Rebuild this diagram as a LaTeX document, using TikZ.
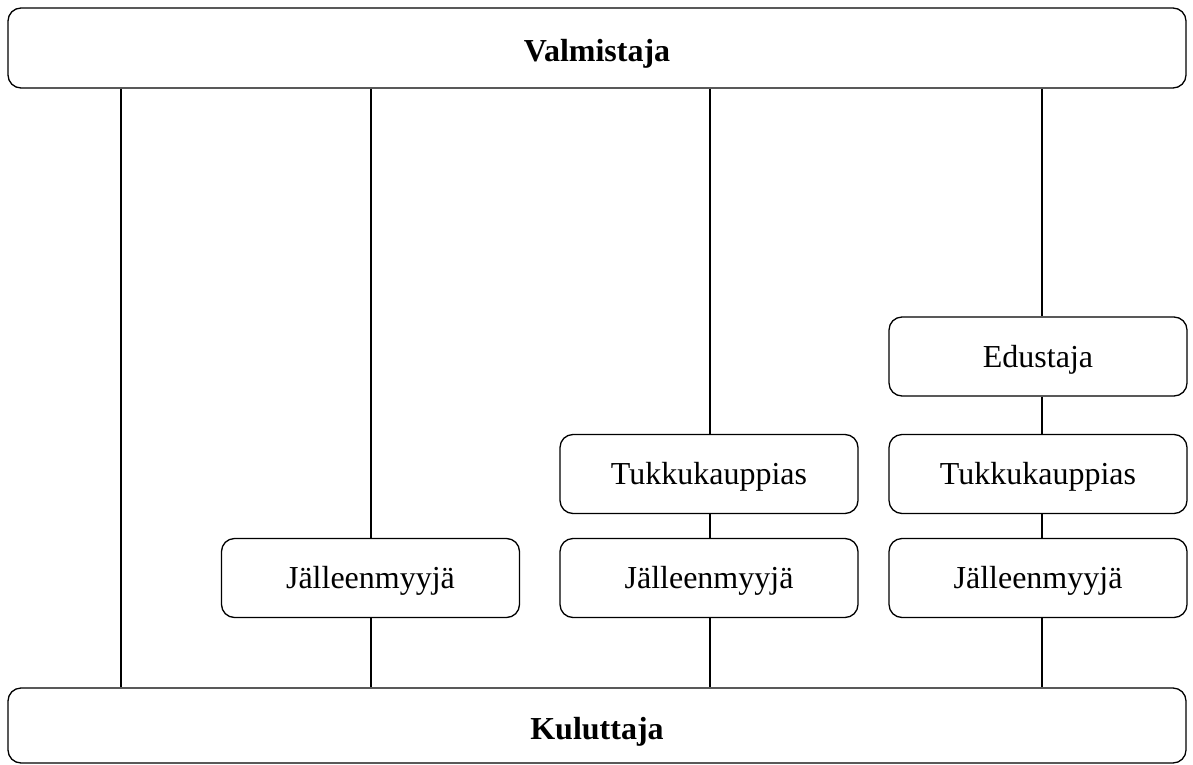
\documentclass[tikz,border=0pt]{standalone}
\usepackage{fontspec}
\setmainfont{Liberation Serif}
\begin{document}
\begin{tikzpicture}[x=1pt,y=-1pt,line width=1.3pt,
  box/.style={draw,rounded corners=13pt,inner sep=0pt,minimum width=298pt,minimum height=79pt,text height=21pt,text depth=0pt,font=\fontsize{32}{38}\selectfont},
  wide/.style={box,minimum width=1178pt,text height=27pt,font=\fontsize{32}{38}\selectfont\bfseries},
  link/.style={draw}]
\useasboundingbox (0,0) rectangle (1193,765);
\node[wide,minimum height=80pt] (top) at (597,48) {Valmistaja};
\node[wide,minimum height=75pt] (bot) at (597,725.5) {Kuluttaja};
\node[box] (j1) at (370.5,578) {Jälleenmyyjä};
\node[box] (t3) at (709,474) {Tukkukauppias};
\node[box] (j3) at (709,578) {Jälleenmyyjä};
\node[box] (e4) at (1038,356.5) {Edustaja};
\node[box] (t4) at (1038,474) {Tukkukauppias};
\node[box] (j4) at (1038,578) {Jälleenmyyjä};
\coordinate (c1) at (121,400);
\coordinate (c2) at (371,400);
\coordinate (c3) at (710,400);
\coordinate (c4) at (1042,400);
\draw[link] (top.south -| c1) -- (bot.north -| c1);
\draw[link] (top.south -| c2) -- (j1.north -| c2);
\draw[link] (j1.south -| c2) -- (bot.north -| c2);
\draw[link] (top.south -| c3) -- (t3.north -| c3);
\draw[link] (t3.south -| c3) -- (j3.north -| c3);
\draw[link] (j3.south -| c3) -- (bot.north -| c3);
\draw[link] (top.south -| c4) -- (e4.north -| c4);
\draw[link] (e4.south -| c4) -- (t4.north -| c4);
\draw[link] (t4.south -| c4) -- (j4.north -| c4);
\draw[link] (j4.south -| c4) -- (bot.north -| c4);
\end{tikzpicture}
\end{document}
